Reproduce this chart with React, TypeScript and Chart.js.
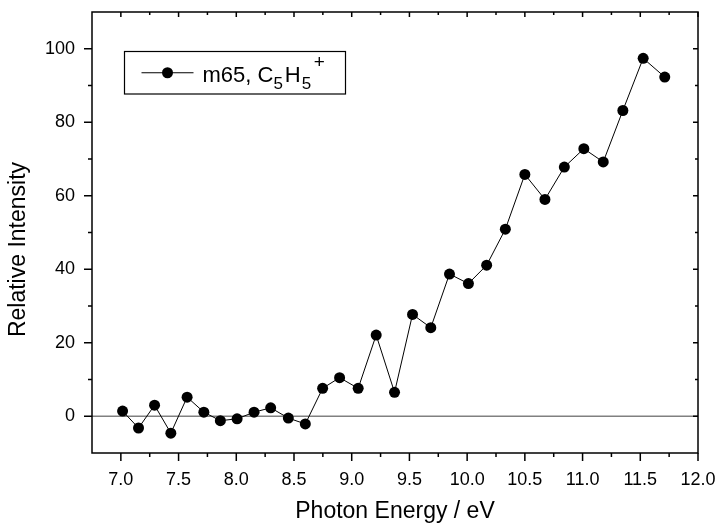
import React, { useEffect, useRef } from "react";
import { Chart, registerables } from "chart.js";

Chart.register(...registerables);

// Data
const photonEnergy = [
  7.015, 7.153, 7.292, 7.433, 7.574, 7.719, 7.862, 8.007, 8.154, 8.298, 8.451,
  8.598, 8.748, 8.895, 9.056, 9.212, 9.371, 9.527, 9.685, 9.847, 10.011, 10.169,
  10.331, 10.5, 10.674, 10.842, 11.011, 11.179, 11.349, 11.525, 11.712,
];
const relativeIntensity = [
  1.4, -3.2, 3.0, -4.6, 5.2, 1.1, -1.2, -0.7, 1.1, 2.3, -0.5, -2.1, 7.6, 10.5,
  7.6, 22.1, 6.5, 27.7, 24.1, 38.7, 36.1, 41.1, 50.9, 65.8, 59.0, 67.8, 72.8,
  69.2, 83.2, 97.4, 92.3,
];

const xMajorTicks = [7.0, 7.5, 8.0, 8.5, 9.0, 9.5, 10.0, 10.5, 11.0, 11.5, 12.0];
const xMinorTicks = [7.25, 7.75, 8.25, 8.75, 9.25, 9.75, 10.25, 10.75, 11.25, 11.75];
const yMajorTicks = [0, 20, 40, 60, 80, 100];
const yMinorTicks = [10, 30, 50, 70, 90];

const xTitle = "Photon Energy / eV";
const yTitle = "Relative Intensity";
const legendMain = "m65, C";
const legendSub = "5";
const legendMid = "H";
const legendSup = "+";

const FONT = '"Liberation Sans", Arial, Helvetica, sans-serif';

const framePlugin = {
  id: "frame",
  beforeDatasetsDraw(chart: any) {
    const { ctx, chartArea, scales } = chart;
    const y0 = scales.y.getPixelForValue(0);
    ctx.save();
    ctx.strokeStyle = "#808080";
    ctx.lineWidth = 1.5;
    ctx.beginPath();
    ctx.moveTo(chartArea.left, y0);
    ctx.lineTo(chartArea.right, y0);
    ctx.stroke();
    ctx.restore();
  },
  afterDatasetsDraw(chart: any) {
    const { ctx, chartArea, scales } = chart;
    const { left, right, top, bottom } = chartArea;
    ctx.save();
    ctx.strokeStyle = "#000";
    ctx.lineWidth = 1.5;
    ctx.strokeRect(left, top, right - left, bottom - top);
    ctx.beginPath();
    for (const v of xMajorTicks) {
      const px = scales.x.getPixelForValue(v);
      ctx.moveTo(px, bottom);
      ctx.lineTo(px, bottom + 8);
      ctx.moveTo(px, top);
      ctx.lineTo(px, top + 5);
    }
    for (const v of xMinorTicks) {
      const px = scales.x.getPixelForValue(v);
      ctx.moveTo(px, bottom);
      ctx.lineTo(px, bottom + 4);
      ctx.moveTo(px, top);
      ctx.lineTo(px, top + 3);
    }
    for (const v of yMajorTicks) {
      const py = scales.y.getPixelForValue(v);
      ctx.moveTo(left, py);
      ctx.lineTo(left - 8, py);
      ctx.moveTo(right, py);
      ctx.lineTo(right - 5, py);
    }
    for (const v of yMinorTicks) {
      const py = scales.y.getPixelForValue(v);
      ctx.moveTo(left, py);
      ctx.lineTo(left - 4, py);
      ctx.moveTo(right, py);
      ctx.lineTo(right - 3, py);
    }
    ctx.stroke();
    ctx.restore();
  },
  afterDraw(chart: any) {
    const { ctx, chartArea } = chart;
    // y-axis title (drawn here so it can sit slightly below the axis centre, as in the reference)
    ctx.save();
    ctx.fillStyle = "#000";
    ctx.font = `23px ${FONT}`;
    ctx.textAlign = "center";
    ctx.textBaseline = "middle";
    ctx.translate(19, (chartArea.top + chartArea.bottom) / 2 + 17);
    ctx.rotate(-Math.PI / 2);
    ctx.fillText(yTitle, 0, 0);
    ctx.restore();

    const bx = chartArea.left + 32.5;
    const by = chartArea.top + 39.5;
    const bw = 221;
    const bh = 42.5;
    ctx.save();
    ctx.fillStyle = "#fff";
    ctx.fillRect(bx, by, bw, bh);
    ctx.strokeStyle = "#000";
    ctx.lineWidth = 1.2;
    ctx.strokeRect(bx, by, bw, bh);
    // sample line + marker
    const cy = by + bh / 2;
    ctx.lineWidth = 1;
    ctx.beginPath();
    ctx.moveTo(bx + 17, cy);
    ctx.lineTo(bx + 69, cy);
    ctx.stroke();
    ctx.fillStyle = "#000";
    ctx.beginPath();
    ctx.arc(bx + 43, cy, 5.5, 0, Math.PI * 2);
    ctx.fill();
    // text
    const base = by + 30;
    let x = bx + 78;
    ctx.textBaseline = "alphabetic";
    ctx.textAlign = "left";
    ctx.font = `22px ${FONT}`;
    ctx.fillText(legendMain, x, base);
    x += ctx.measureText(legendMain).width;
    ctx.font = `17px ${FONT}`;
    ctx.fillText(legendSub, x, base + 7.5);
    x += ctx.measureText(legendSub).width + 2;
    ctx.font = `22px ${FONT}`;
    ctx.fillText(legendMid, x, base);
    x += ctx.measureText(legendMid).width + 1;
    ctx.font = `17px ${FONT}`;
    ctx.fillText(legendSub, x, base + 7.5);
    x += ctx.measureText(legendSub).width + 2.5;
    ctx.font = `19px ${FONT}`;
    ctx.fillText(legendSup, x, base - 14);
    ctx.restore();
  },
};

export default function App() {
  const canvasRef = useRef<HTMLCanvasElement | null>(null);

  useEffect(() => {
    if (!canvasRef.current) return;
    const chart = new Chart(canvasRef.current, {
      type: "line",
      data: {
        datasets: [
          {
            label: "m65",
            data: photonEnergy.map((e, i) => ({ x: e, y: relativeIntensity[i] })),
            borderColor: "#000",
            borderWidth: 1,
            backgroundColor: "#000",
            pointRadius: 5.5,
            pointBorderWidth: 0,
            pointBackgroundColor: "#000",
            tension: 0,
          },
        ],
      },
      options: {
        animation: false,
        responsive: false,
        events: [],
        layout: { padding: { top: 12, right: 22, left: 0, bottom: 0 } },
        plugins: { legend: { display: false }, tooltip: { enabled: false } },
        scales: {
          x: {
            type: "linear",
            min: 6.75,
            max: 12,
            grid: { display: false, drawTicks: false },
            border: { display: false },
            afterBuildTicks: (s: any) => {
              s.ticks = xMajorTicks.map((v) => ({ value: v }));
            },
            afterFit: (s: any) => {
              s.height = 73;
              s.paddingLeft = 0;
              s.paddingRight = 0;
            },
            ticks: {
              color: "#000",
              font: { family: FONT, size: 18 },
              padding: 16,
              maxRotation: 0,
              autoSkip: false,
              callback: (v: any) => Number(v).toFixed(1),
            },
            title: {
              display: true,
              text: xTitle,
              color: "#000",
              font: { family: FONT, size: 23 },
              padding: { top: 0, bottom: 1 },
            },
          },
          y: {
            type: "linear",
            min: -10,
            max: 110,
            grid: { display: false, drawTicks: false },
            border: { display: false },
            afterBuildTicks: (s: any) => {
              s.ticks = yMajorTicks.map((v) => ({ value: v }));
            },
            afterFit: (s: any) => {
              s.width = 92;
              s.paddingTop = 0;
              s.paddingBottom = 0;
            },
            ticks: {
              color: "#000",
              font: { family: FONT, size: 18 },
              padding: 17,
              autoSkip: false,
              callback: (v: any) => String(v),
            },
            title: { display: false },
          },
        },
      },
      plugins: [framePlugin],
    });
    return () => chart.destroy();
  }, []);

  return (
    <div style={{ position: "absolute", left: 0, top: 0, width: 720, height: 526, background: "#fff" }}>
      <canvas ref={canvasRef} width={720} height={526} />
    </div>
  );
}
